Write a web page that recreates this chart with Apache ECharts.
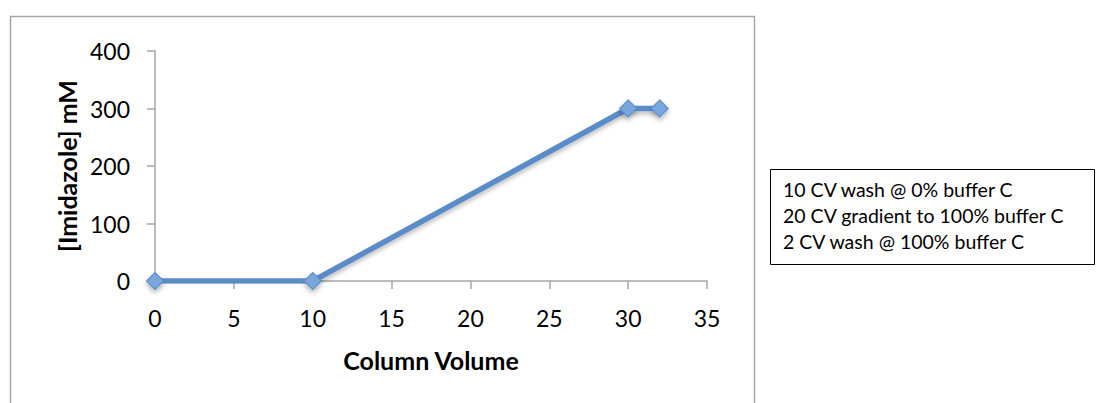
<!DOCTYPE html>
<html>
<head>
<meta charset="utf-8">
<script src="https://cdn.jsdelivr.net/npm/echarts@6/dist/echarts.min.js"></script>
<style>
  html, body { margin: 0; padding: 0; background: #fff; }
  #chart { width: 1096px; height: 403px; }
</style>
</head>
<body>
<div id="chart"></div>
<script>
// Elution program: column volume vs imidazole concentration
const columnVolumes = [0, 10, 30, 32];
const imidazoleMM = [0, 0, 300, 300];
const xTicks = [0, 5, 10, 15, 20, 25, 30, 35];
const yTicks = [0, 100, 200, 300, 400];
const programSteps = [
  '10 CV wash @ 0% buffer C',
  '20 CV gradient to 100% buffer C',
  '2 CV wash @ 100% buffer C'
];

const FONT = 'Lato, "Open Sans", sans-serif';
const chart = echarts.init(document.getElementById('chart'), null, { renderer: 'svg' });

chart.setOption({
  animation: false,
  backgroundColor: '#ffffff',
  grid: { left: 155, right: 389, top: 51, bottom: 122, containLabel: false },
  xAxis: {
    type: 'value',
    min: xTicks[0],
    max: xTicks[xTicks.length - 1],
    interval: 5,
    name: 'Column Volume',
    nameLocation: 'middle',
    nameGap: 66,
    nameTextStyle: { fontFamily: FONT, fontSize: 25, fontWeight: 'bold', color: '#000' },
    axisLine: { lineStyle: { color: '#a6a6a6', width: 1.5 } },
    axisTick: { show: true, length: 8, lineStyle: { color: '#a6a6a6', width: 1.5 } },
    axisLabel: { fontFamily: FONT, fontSize: 23, color: '#000', margin: 25 },
    splitLine: { show: false }
  },
  yAxis: {
    type: 'value',
    min: yTicks[0],
    max: yTicks[yTicks.length - 1],
    interval: 100,
    name: '[Imidazole] mM',
    nameLocation: 'middle',
    nameGap: 70,
    nameRotate: 90,
    nameTextStyle: { fontFamily: FONT, fontSize: 25, fontWeight: 'bold', color: '#000' },
    axisLine: { show: true, lineStyle: { color: '#a6a6a6', width: 1.5 } },
    axisTick: { show: true, length: 8, lineStyle: { color: '#a6a6a6', width: 1.5 } },
    axisLabel: { fontFamily: FONT, fontSize: 23, color: '#000', margin: 25 },
    splitLine: { show: false }
  },
  series: [{
    type: 'line',
    data: columnVolumes.map((cv, i) => [cv, imidazoleMM[i]]),
    symbol: 'diamond',
    symbolSize: 17,
    lineStyle: {
      color: '#5b8cc8', width: 5.5,
      shadowColor: 'rgba(0,0,0,0.25)', shadowBlur: 4, shadowOffsetY: 3
    },
    itemStyle: {
      color: '#7aa6dc', borderColor: '#5f90cc', borderWidth: 1.2,
      shadowColor: 'rgba(0,0,0,0.3)', shadowBlur: 5, shadowOffsetY: 3
    },
    z: 3
  }],
  graphic: [
    {
      type: 'rect',
      shape: { x: 10.5, y: 16.5, width: 744, height: 400 },
      style: { fill: 'none', stroke: '#a6a6a6', lineWidth: 1.5 },
      silent: true, z: -1
    },
    {
      type: 'group',
      left: 770, top: 169,
      children: [
        {
          type: 'rect',
          shape: { x: 0.5, y: 0.5, width: 324, height: 95 },
          style: { fill: '#fff', stroke: '#000', lineWidth: 1 }
        },
        {
          type: 'text',
          x: 13, y: 7,
          style: {
            text: programSteps.join('\n'),
            font: '19.5px ' + FONT,
            lineHeight: 26,
            fill: '#000'
          }
        }
      ]
    }
  ]
});
</script>
</body>
</html>
